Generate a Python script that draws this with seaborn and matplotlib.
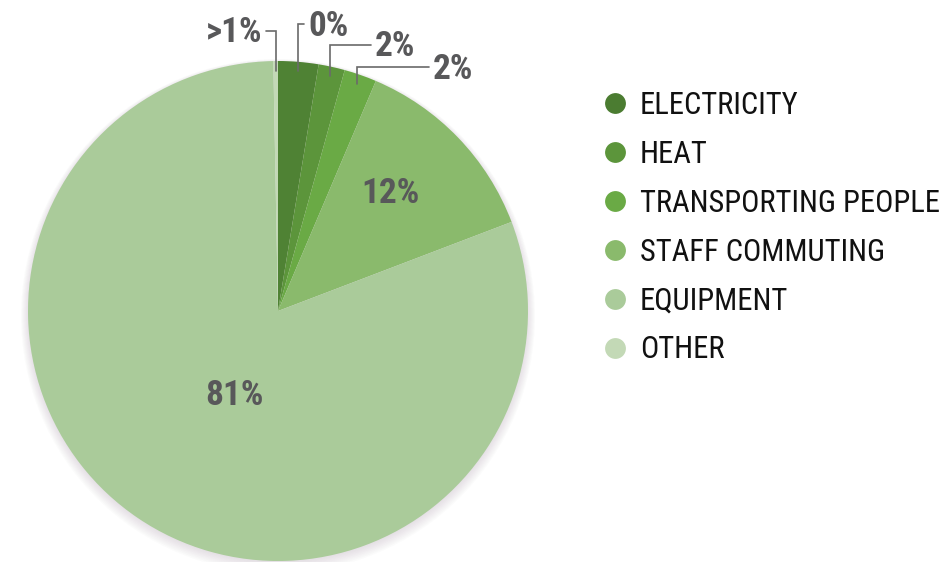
import matplotlib
matplotlib.use("Agg")
import matplotlib.pyplot as plt
import seaborn as sns
import numpy as np
from matplotlib.lines import Line2D
from matplotlib.patches import Circle

sns.set_theme(style="white")
plt.rcParams['font.family'] = ['Roboto Condensed', 'Roboto', 'DejaVu Sans']

# ---- data ----
categories = ["ELECTRICITY", "HEAT", "TRANSPORTING PEOPLE", "STAFF COMMUTING", "EQUIPMENT", "OTHER"]
values = [2.6, 1.7, 2.1, 12.8, 80.5, 0.3]
value_labels = ["0%", "2%", "2%", "12%", "81%", ">1%"]
colors = ["#4f8234", "#5c953b", "#6aaa45", "#8aba6c", "#aacb9a", "#c3d9b6"]
legend_colors = ["#4b7c31", "#5c953b", "#6aaa45", "#8aba6c", "#aacb9a", "#c3d9b6"]

W, H = 948, 562
fig = plt.figure(figsize=(W / 100, H / 100), dpi=100)
ax = fig.add_axes([0, 0, 1, 1])
cx, cy, R = 278, 311, 250
ax.axis("off")

# soft shadow
for i in range(8):
    ax.add_patch(Circle((0.0, -0.006 - 0.002 * i), 1.0 + 0.004 * i,
                        color="#7a6a7a", alpha=0.022, lw=0, zorder=0))

wedges, _ = ax.pie(values, colors=colors, startangle=90, counterclock=False,
                   radius=1.0, wedgeprops=dict(linewidth=0), center=(0, 0))
for w in wedges:
    w.set_zorder(2)
ax.set_xlim(-cx / R, (W - cx) / R)
ax.set_ylim(-(H - cy) / R, cy / R)

label_font = dict(family=['Roboto Condensed', 'DejaVu Sans'], fontweight='bold',
                  color="#58585a", fontsize=25.5)

def mid_angle(w):
    return np.deg2rad((w.theta1 + w.theta2) / 2)

# outside labels with elbow leaders: (index, elbow y px, text x px, ha)
outside = [(5, 31, 262, 'right'), (0, 24, 308, 'left'), (1, 45, 375, 'left'), (2, 67, 433, 'left')]
for idx, ely, tx, ha in outside:
    a = mid_angle(wedges[idx])
    x0, y0 = 0.962 * np.cos(a), 0.962 * np.sin(a)
    yel = (cy - ely) / R
    xt = (tx - cx) / R
    xend = xt + (0.016 if ha == 'right' else -0.016)
    ax.plot([x0, x0, xend], [y0, yel, yel], color="#6a6a6a", lw=1.2,
            solid_joinstyle='miter', zorder=3, clip_on=False)
    ax.text(xt, yel - 0.008, value_labels[idx], ha=ha, va='center', zorder=4, **label_font)

# inside labels
for idx, r, dang in [(3, 0.65, 2.5), (4, 0.38, 7.0)]:
    a = mid_angle(wedges[idx]) + np.deg2rad(dang)
    ax.text(r * np.cos(a), r * np.sin(a), value_labels[idx], ha='center', va='center',
            zorder=4, **label_font)

handles = [Line2D([], [], marker='o', linestyle='', markersize=15, markerfacecolor=c,
                  markeredgewidth=0) for c in legend_colors]
leg = fig.legend(handles, categories, loc='upper left', bbox_to_anchor=(604 / W, 1 - 91 / H),
                 frameon=False, fontsize=22, handlelength=0.72, handletextpad=0.45,
                 labelspacing=0.65, borderpad=0, borderaxespad=0)
for t in leg.get_texts():
    t.set_color("#111111")

fig.savefig("out.png", dpi=100, facecolor="white")
